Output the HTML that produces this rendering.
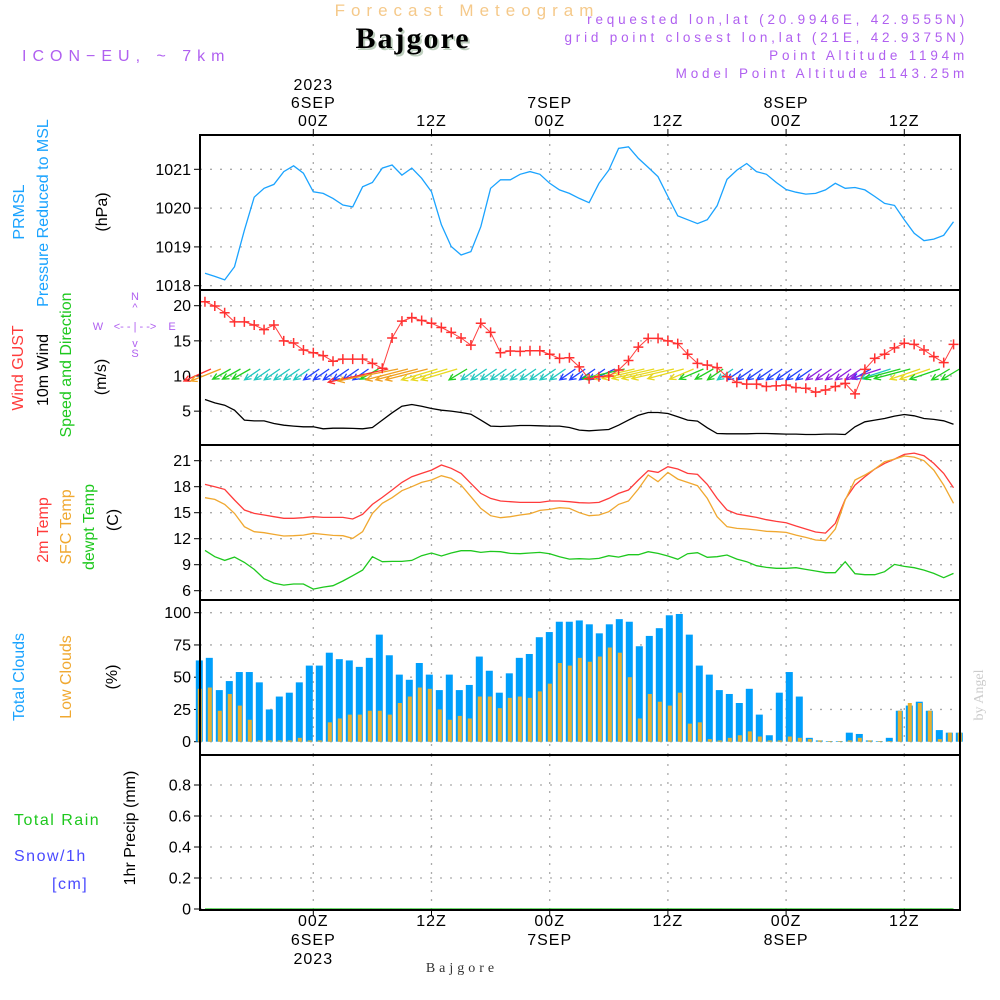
<!DOCTYPE html>
<html><head><meta charset="utf-8"><style>
html,body{margin:0;padding:0;background:#fff;}
svg{display:block;font-family:"Liberation Sans","DejaVu Sans",sans-serif;}
</style></head><body>
<svg id="chart" width="1000" height="1000" viewBox="0 0 1000 1000">
<g id="hdr">
<text x="467" y="16" text-anchor="middle" font-size="17" letter-spacing="6" fill="#f5c98a">Forecast Meteogram</text>
<text x="415" y="50" text-anchor="middle" font-size="30" font-weight="bold" letter-spacing="2" font-family="Liberation Serif,serif" fill="#bfd0bf">Bajgore</text>
<text x="413" y="48" text-anchor="middle" font-size="30" font-weight="bold" letter-spacing="2" font-family="Liberation Serif,serif" fill="#000">Bajgore</text>
<text x="22" y="61" font-size="16" letter-spacing="6" fill="#b060f0">ICON−EU, ~ 7km</text>
<g font-size="13.5" fill="#b060f0" text-anchor="end" letter-spacing="3.8">
<text x="968" y="24">requested lon,lat (20.9946E, 42.9555N)</text>
<text x="968" y="42">grid point closest lon,lat (21E, 42.9375N)</text>
<text x="968" y="60">Point Altitude 1194m</text>
<text x="968" y="78">Model Point Altitude 1143.25m</text>
</g>
<text x="462" y="972" text-anchor="middle" font-size="14" font-family="Liberation Serif,serif" letter-spacing="4" fill="#333">Bajgore</text>
<text transform="translate(983,695) rotate(-90)" text-anchor="middle" font-size="14" font-family="Liberation Serif,serif" fill="#ccc">by Angel</text>
</g>
<g id="leftlabels" font-size="16">
<text transform="translate(24,212) rotate(-90)" text-anchor="middle" fill="#1aa3ff">PRMSL</text>
<text transform="translate(48,213) rotate(-90)" text-anchor="middle" fill="#1aa3ff">Pressure  Reduced to MSL</text>
<text transform="translate(107,212) rotate(-90)" text-anchor="middle" fill="#000">(hPa)</text>
<text transform="translate(23,368) rotate(-90)" text-anchor="middle" fill="#ff3b3b">Wind GUST</text>
<text transform="translate(48,370) rotate(-90)" text-anchor="middle" fill="#000">10m Wind</text>
<text transform="translate(71,365) rotate(-90)" text-anchor="middle" fill="#1ec81e">Speed and Direction</text>
<text transform="translate(106,377) rotate(-90)" text-anchor="middle" fill="#000">(m/s)</text>
<g fill="#b060f0" font-size="11" text-anchor="middle">
<text x="98" y="330">W</text><text x="172" y="330">E</text>
<text x="135" y="300">N</text><text x="135" y="357">S</text>
<text x="135" y="311">^</text><text x="135" y="347">v</text>
<text x="135" y="330">&lt;- - | - -&gt;</text>
</g>
<text transform="translate(48,530) rotate(-90)" text-anchor="middle" fill="#ff3b3b">2m Temp</text>
<text transform="translate(71,527) rotate(-90)" text-anchor="middle" fill="#f0a830">SFC Temp</text>
<text transform="translate(94,527) rotate(-90)" text-anchor="middle" fill="#1ec81e">dewpt Temp</text>
<text transform="translate(118,520) rotate(-90)" text-anchor="middle" fill="#000">(C)</text>
<text transform="translate(24,677) rotate(-90)" text-anchor="middle" fill="#1aa3ff">Total Clouds</text>
<text transform="translate(71,677) rotate(-90)" text-anchor="middle" fill="#f0a830">Low Clouds</text>
<text transform="translate(117,677) rotate(-90)" text-anchor="middle" fill="#000">(%)</text>
<text transform="translate(135,828) rotate(-90)" text-anchor="middle" fill="#000">1hr Precip (mm)</text>
<text x="14" y="825" fill="#1ec81e" letter-spacing="1.5">Total   Rain</text>
<text x="14" y="861" fill="#4a4aff" letter-spacing="1.5">Snow/1h</text>
<text x="52" y="889" fill="#4a4aff" letter-spacing="1.5">[cm]</text>
</g>
</svg>
<script>
const hours = [];
for (let h = -11; h <= 65; h++) hours.push(h);
const pressure = [1018.32,1018.24,1018.15,1018.49,1019.43,1020.28,1020.51,1020.61,1020.94,1021.09,1020.90,1020.42,1020.38,1020.25,1020.08,1020.03,1020.55,1020.66,1021.03,1021.11,1020.85,1021.03,1020.77,1020.42,1019.57,1019.01,1018.79,1018.88,1019.52,1020.51,1020.73,1020.73,1020.87,1020.94,1020.87,1020.64,1020.47,1020.38,1020.25,1020.14,
1020.64,1020.98,1021.54,1021.58,1021.28,1021.05,1020.81,1020.30,1019.80,1019.70,1019.60,1019.70,1020.06,1020.74,1020.98,1021.15,1020.94,1020.87,1020.66,1020.48,1020.41,1020.36,1020.38,1020.47,1020.64,1020.51,1020.53,1020.47,1020.30,1020.12,1020.07,1019.70,1019.35,1019.16,1019.20,1019.30,1019.65];
const gust = [20.57,19.95,19.0,17.7,17.7,17.25,16.6,17.25,15.0,14.7,13.7,13.3,12.9,12.1,12.4,12.4,12.4,11.8,11.1,15.4,17.8,18.3,17.9,17.5,16.9,16.2,15.4,14.4,17.5,16.2,13.3,13.55,13.5,13.6,13.6,13.1,12.5,12.6,11.3,9.6,
9.9,10.0,10.85,12.2,14.1,15.35,15.35,15.0,14.6,13.1,11.8,11.55,11.2,9.9,9.1,8.85,8.85,8.5,8.6,8.7,8.35,8.25,7.7,8.0,8.5,8.95,7.45,10.95,12.5,13.1,14.0,14.65,14.5,13.7,12.75,11.9,14.5];
const windSpeed = [6.66,6.18,5.85,5.14,3.72,3.62,3.62,3.25,3.0,2.87,2.77,2.77,2.49,2.58,2.58,2.54,2.49,2.68,3.72,4.76,5.71,5.95,5.71,5.38,5.14,5.0,4.81,4.57,3.72,2.87,2.82,2.87,2.96,2.96,2.91,2.87,2.87,2.68,2.3,2.2,
2.3,2.39,3.0,3.72,4.43,4.81,4.81,4.67,4.19,3.72,3.58,2.63,1.82,1.78,1.78,1.78,1.82,1.82,1.78,1.73,1.73,1.68,1.68,1.73,1.73,1.68,2.77,3.48,3.72,3.96,4.29,4.53,4.34,3.96,3.82,3.63,3.15];
const windColorCat = "rogggccccccbbbbbbgrooooyyygccccccccccbbbbbgyyyyyyygggcbbbbbbbbpppppbpcggyygggcc".split("");
const windU = [-4.5,-5,-3,-3,-3,-2.6,-2.6,-2.6,-2.6,-2.6,-2.6,-2.6,-2.6,-2.6,-2.6,-2.6,-2.6,-3,-10,-10,-7,-7,-7,-6,-6,-6,-3,-2.6,-2.6,-2.6,-2.6,-2.6,-2.6,-2.6,-2.6,-2.6,-2.6,-2.6,-2.6,-2.6,-2.6,-3.5,-7,-7,-7,-7,-7,-7,-6,-4,-4,-3,-2.6,-2.6,-2.6,-2.6,-2.6,-2.6,-2.6,-2.6,-2.6,-2.6,-2.6,-2.6,-2.6,-2.6,-2.6,-3,-5,-5,-6,-6,-5,-5,-5,-3,-3];
const windV = [-2,-2,-1.7,-1.7,-1.7,-1.8,-1.8,-1.8,-1.8,-1.8,-1.8,-1.8,-1.8,-1.8,-1.8,-1.8,-1.8,-1.7,-2.2,-2,-1.8,-1.8,-1.8,-1.8,-1.8,-1.8,-1.8,-1.8,-1.8,-1.8,-1.8,-1.8,-1.8,-1.8,-1.8,-1.8,-1.8,-1.8,-1.8,-1.8,-1.8,-1.7,-1.6,-1.6,-1.6,-1.6,-1.6,-1.6,-1.6,-1.7,-1.7,-1.7,-1.8,-1.8,-1.8,-1.8,-1.8,-1.8,-1.8,-1.8,-1.8,-1.8,-1.8,-1.8,-1.8,-1.8,-1.8,-1.7,-1.6,-1.6,-1.6,-1.6,-1.7,-1.7,-1.7,-1.8,-1.8];
const temp2m = [18.27,18.0,17.69,16.46,15.31,14.92,14.73,14.54,14.35,14.35,14.42,14.54,14.46,14.46,14.46,14.27,14.81,15.96,16.77,17.62,18.5,19.15,19.54,19.92,20.5,20.12,19.54,18.38,17.23,16.65,16.35,16.27,16.19,16.19,16.19,16.35,16.35,16.27,16.15,16.12,
16.19,16.65,17.23,17.62,18.77,19.85,19.65,20.31,20.04,19.54,19.42,18.27,16.65,15.31,14.85,14.65,14.46,14.19,14.0,13.85,13.46,13.12,12.77,12.65,13.77,16.54,18.19,19.15,20.04,20.69,21.19,21.73,21.88,21.58,20.69,19.54,17.88];
const tempSfc = [16.73,16.54,15.96,14.92,13.38,12.81,12.69,12.5,12.31,12.35,12.42,12.62,12.5,12.38,12.35,12.04,12.81,14.92,16.08,16.73,17.54,18.0,18.5,18.77,19.27,18.96,18.19,16.85,15.5,14.65,14.42,14.54,14.73,14.88,15.27,15.38,15.58,15.5,15.0,14.65,
14.73,15.12,15.96,16.35,17.73,19.35,18.58,19.65,18.88,18.5,18.12,16.65,14.54,13.38,13.19,13.12,13.0,12.85,12.81,12.73,12.42,12.15,11.85,11.77,13.12,16.46,18.77,19.35,20.04,20.88,21.19,21.54,21.42,21.0,19.92,18.19,16.08];
const dewpt = [10.65,9.92,9.5,9.88,9.27,8.46,7.38,6.88,6.65,6.77,6.77,6.19,6.42,6.58,7.12,7.73,8.38,9.92,9.35,9.38,9.38,9.5,10.04,10.35,10.0,10.35,10.62,10.62,10.42,10.54,10.5,10.31,10.27,10.35,10.42,10.27,9.92,9.65,9.69,9.65,
9.73,10.04,9.88,10.15,10.15,10.5,10.31,10.0,9.62,10.27,10.38,9.85,9.92,10.12,9.65,9.35,8.88,8.69,8.58,8.58,8.65,8.46,8.27,8.08,8.08,9.35,7.96,7.85,7.85,8.19,9.04,8.81,8.65,8.38,8.0,7.5,8.0];
const totalClouds = [63,65,40,47,54,54,46,25,35,38,46,59,59,69,64,63,58,65,83,67,52,48,61,52,40,52,40,44,66,55,38,53,65,68,81,85,93,93,94,91,84,91,95,93,74,82,88,98,99,83,59,52,40,37,30,41,21,5,38,54,35,3,1,0.5,0.5,7,6,1,0.5,3,24,28,31,24,9,7,7];
const lowClouds = [41,42,24,37,28,17,1,1,1,1,3,1,1,15,18,21,21,24,24,21,30,35,42,41,25,17,20,18,35,35,26,34,35,34,39,45,61,59,65,62,66,73,69,50,18,37,31,28,38,14,15,2,1,3,5,8,4,1,1,4,3,2,1,0.5,0.5,1,3,1,0.5,0.5,24,30,30,24,2,7,7];
const precip = hours.map(() => 0);
const pTicks = [1018,1019,1020,1021];
const wTicks = [5,10,15,20];
const tTicks = [6,9,12,15,18,21];
const cTicks = [0,25,50,75,100];
const rTicks = [0,0.2,0.4,0.6,0.8];
const timeTicks = [0,12,24,36,48,60];
const topLabels = [["2023","6SEP","00Z"],["","","12Z"],["","7SEP","00Z"],["","","12Z"],["","8SEP","00Z"],["","","12Z"]];
const botLabels = [["00Z","6SEP","2023"],["12Z","",""],["00Z","7SEP",""],["12Z","",""],["00Z","8SEP",""],["12Z","",""]];

const L = 200, R = 960;
const xT = t => 313.3 + t * 9.85;
const xBar = k => 199.3 + k * 10;
const yP = p => 169.3 + (1021 - p) * 38.8;
const yW = v => 376 - (v - 10) * 7.03;
const yT = v => 460.7 + (21 - v) * 8.667;
const yC = v => 741.7 - v * 1.29;
const yR = v => 909 - v * 155;
const colorMap = {r:"#ff3030",o:"#f0a020",y:"#e8d820",g:"#20d020",c:"#20c8c0",b:"#2040ff",p:"#9020e0"};
const NS = "http://www.w3.org/2000/svg";
const svg = document.getElementById("chart");
function mk(tag, attrs, parent) {
  const e = document.createElementNS(NS, tag);
  for (const k in attrs) e.setAttribute(k, attrs[k]);
  (parent || svg).appendChild(e);
  return e;
}
const panels = [
  {name:"pressure-panel", top:135, bot:290, ticks:pTicks, y:yP},
  {name:"wind-panel", top:290, bot:445, ticks:wTicks, y:yW},
  {name:"temperature-panel", top:445, bot:600, ticks:tTicks, y:yT},
  {name:"clouds-panel", top:600, bot:755, ticks:cTicks, y:yC},
  {name:"precip-panel", top:755, bot:910, ticks:rTicks, y:yR}
];
panels.forEach(p => {
  const g = mk("g", {});
  
  
  p.ticks.forEach(v => {
    const y = p.y(v);
    const gl = mk("line", {x1:L, x2:R, y1:y, y2:y, stroke:"#aaa", "stroke-width":1.3, "stroke-dasharray":"2,8"}, g);
    
    
    mk("line", {x1:L-6, x2:L, y1:y, y2:y, stroke:"#000", "stroke-width":1}, g);
    const tl = mk("text", {x:L-9, y:y+5.5, "text-anchor":"end", "font-size":16}, g);
    tl.textContent = String(v);
    
    
  });
  timeTicks.forEach(t => {
    const vl = mk("line", {x1:xT(t), x2:xT(t), y1:p.top, y2:p.bot, stroke:"#aaa", "stroke-width":1.3, "stroke-dasharray":"2,7"}, g);
    
    
  });
});
function line(vals, yf, color, name, w) {
  const d = vals.map((v, i) => (i ? "L" : "M") + xT(hours[i]).toFixed(1) + "," + yf(v).toFixed(1)).join("");
  const e = mk("path", {d:d, fill:"none", stroke:color, "stroke-width":w || 1.3});
  
  
  return e;
}
totalClouds.forEach((v, k) => {
  const b = mk("rect", {x:xBar(k)-3.5, y:yC(v), width:7, height:yC(0)-yC(v), fill:"#009ffb"});
  
  
});
lowClouds.forEach((v, k) => {
  const b = mk("rect", {x:xBar(k)-1.5, y:yC(v), width:4, height:yC(0)-yC(v), fill:"#e8b030"});
  
  
});
line(pressure, yP, "#1aa3ff", "pressure-line");
hours.forEach((t, i) => {
  const x0 = xT(t) + 6, y0 = 369;
  const x1 = x0 + windU[i] * 6, y1 = y0 - windV[i] * 6;
  const c = colorMap[windColorCat[i]];
  const ang = Math.atan2(y1 - y0, x1 - x0);
  const a = mk("path", {d:`M${x0},${y0}L${x1},${y1}M${x1 - 7*Math.cos(ang-0.45)},${y1 - 7*Math.sin(ang-0.45)}L${x1},${y1}L${x1 - 7*Math.cos(ang+0.45)},${y1 - 7*Math.sin(ang+0.45)}`, fill:"none", stroke:c, "stroke-width":1.3});
  
  
});
line(gust, yW, "#ff4040", "gust-line", 1);
gust.forEach((v, i) => {
  const x = xT(hours[i]), y = yW(v);
  const m = mk("path", {d:`M${x-5},${y}L${x+5},${y}M${x},${y-5}L${x},${y+5}`, stroke:"#ff3030", "stroke-width":1.5});
  
  
});
line(windSpeed, yW, "#000", "wind-speed-line");
line(temp2m, yT, "#ff3b3b", "temp-2m-line");
line(tempSfc, yT, "#f0a830", "temp-sfc-line");
line(dewpt, yT, "#1ec81e", "dewpoint-line");
line(precip, yR, "#1ec81e", "precip-line");
panels.forEach(p => {
  const f = mk("rect", {x:L, y:p.top, width:R-L, height:p.bot-p.top, fill:"none", stroke:"#000", "stroke-width":2});
  
  
});
timeTicks.forEach((t, i) => {
  const x = xT(t);
  mk("line", {x1:x, x2:x, y1:129, y2:135, stroke:"#000"});
  mk("line", {x1:x, x2:x, y1:910, y2:916, stroke:"#000"});
  topLabels[i].forEach((s, j) => {
    if (!s) return;
    const e = mk("text", {x:x, y:90 + j*18, "text-anchor":"middle", "font-size":16, "letter-spacing":1});
    e.textContent = s;
    
    
  });
  botLabels[i].forEach((s, j) => {
    if (!s) return;
    const e = mk("text", {x:x, y:926 + j*19, "text-anchor":"middle", "font-size":16, "letter-spacing":1});
    e.textContent = s;
    
    
  });
});
</script>
</body></html>
